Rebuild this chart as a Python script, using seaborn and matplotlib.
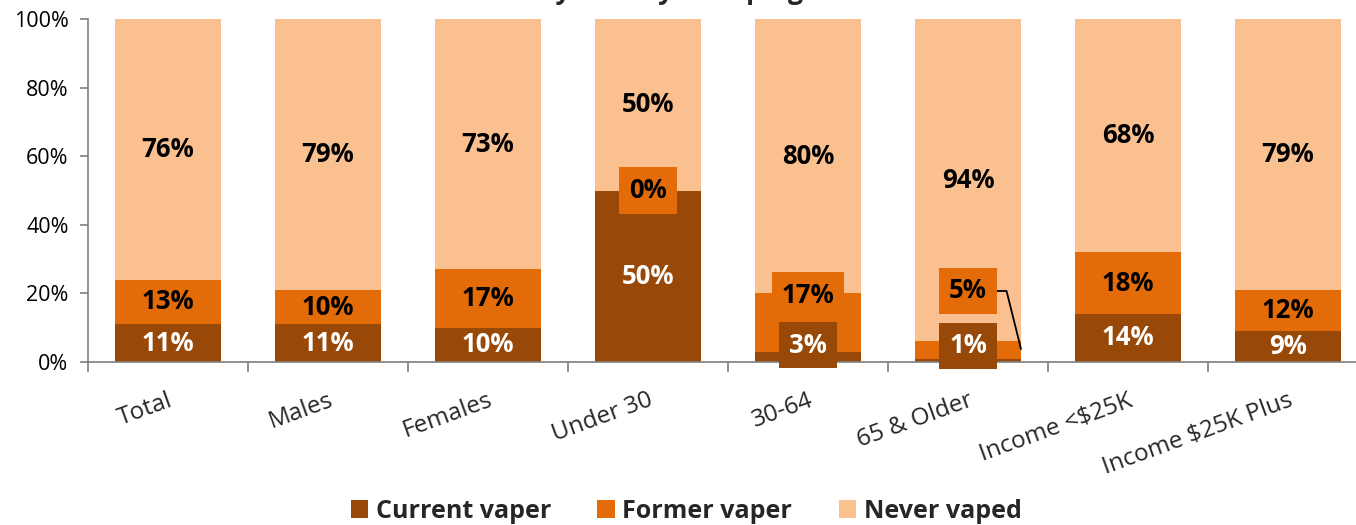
import matplotlib
matplotlib.use("Agg")
import matplotlib.pyplot as plt
import seaborn as sns
import numpy as np
import pandas as pd
from matplotlib.patches import Patch
from matplotlib.ticker import FixedLocator

categories = ["Total", "Males", "Females", "Under 30", "30-64", "65 & Older",
              "Income <$25K", "Income $25K Plus"]
current_vaper = [11, 11, 10, 50, 3, 1, 14, 9]
former_vaper = [13, 10, 17, 0, 17, 5, 18, 12]
never_vaped = [76, 79, 73, 50, 80, 94, 68, 79]
series_names = ["Current vaper", "Former vaper", "Never vaped"]
title_text = "Any History of Vaping"

colors = ["#984807", "#E36C09", "#FAC090"]
text_colors = ["white", "black", "black"]

sns.set_theme(style="white")
plt.rcParams["font.family"] = ["Open Sans", "DejaVu Sans"]

fig = plt.figure(figsize=(13.56, 5.25), dpi=100)
ax = fig.add_axes([88 / 1356, 1 - 362 / 525, 1280 / 1356, 343 / 525])

df = pd.DataFrame({
    "category": categories,
    "current": current_vaper,
    "former": former_vaper,
    "never": never_vaped,
})
df["cum1"] = df["current"]
df["cum2"] = df["current"] + df["former"]
df["cum3"] = df["cum2"] + df["never"]

bar_w = 0.6625
for col, c in [("cum3", colors[2]), ("cum2", colors[1]), ("cum1", colors[0])]:
    sns.barplot(data=df, x="category", y=col, color=c, saturation=1,
                width=bar_w, ax=ax, linewidth=0, errorbar=None)

ax.set_xlim(-0.5, 7.5)
ax.set_ylim(0, 100)
ax.set_xlabel("")
ax.set_ylabel("")

# labels
lab_fs = 18.5
boxed = {  # (category index, series index): y position override
    (3, 1): None,
    (4, 1): 19.5,
    (4, 0): 4.9,
    (5, 1): 20.7,
    (5, 0): 4.7,
}
series_vals = [current_vaper, former_vaper, never_vaped]
for i in range(len(categories)):
    base = 0
    for s in range(3):
        v = series_vals[s][i]
        yc = base + v / 2
        key = (i, s)
        if key in boxed:
            if boxed[key] is not None:
                yc = boxed[key]
            bbox = dict(boxstyle="square,pad=0.38", facecolor=colors[s],
                        edgecolor="none")
            if key == (5, 1):
                ax.annotate(f"{v}%", xy=(i + bar_w / 2, base + v / 2 + 0.3),
                            xytext=(i, yc), ha="center", va="center",
                            fontsize=lab_fs, fontweight="bold",
                            color=text_colors[s], bbox=bbox,
                            arrowprops=dict(arrowstyle="-", color="black",
                                            lw=1.3, shrinkA=0, shrinkB=0,
                                            connectionstyle="angle,angleA=0,angleB=104,rad=0"))
            else:
                ax.text(i, yc, f"{v}%", ha="center", va="center",
                        fontsize=lab_fs, fontweight="bold",
                        color=text_colors[s], bbox=bbox, zorder=5)
        else:
            ax.text(i, yc, f"{v}%", ha="center", va="center",
                    fontsize=lab_fs, fontweight="bold", color=text_colors[s])
        base += v

# axes styling
sns.despine(ax=ax, top=True, right=True)
for side in ["left", "bottom"]:
    ax.spines[side].set_color("#7f7f7f")
    ax.spines[side].set_linewidth(1.2)
ax.set_yticks([0, 20, 40, 60, 80, 100])
ax.set_yticklabels([f"{t}%" for t in [0, 20, 40, 60, 80, 100]], fontsize=15.5)
ax.tick_params(axis="y", which="major", left=True, length=6, width=1.2,
               color="#7f7f7f", pad=8, labelcolor="black")
ax.set_xticks(range(len(categories)))
ax.set_xticklabels(categories, fontsize=17.5, rotation=20, ha="right",
                   rotation_mode="anchor")
ax.tick_params(axis="x", which="major", bottom=False, length=0, pad=19)
ax.xaxis.set_minor_locator(FixedLocator(np.arange(-0.5, 8, 1)))
ax.tick_params(axis="x", which="minor", bottom=True, length=7, width=1.2,
               color="#7f7f7f")

# title (clipped at top as in the reference)
fig.text(0.488, 1.0 + 1 / 525, title_text, ha="center", va="baseline",
         fontsize=19, fontweight="bold")

handles = [Patch(facecolor=c, edgecolor="none", label=n)
           for c, n in zip(colors, series_names)]
leg = fig.legend(handles=handles, loc="center", bbox_to_anchor=(0.506, 1 - 511 / 525),
                 ncol=3, frameon=False, handlelength=0.7, handleheight=0.7,
                 handletextpad=0.3, columnspacing=1.85,
                 prop={"size": 18, "weight": "bold"})

fig.savefig("out.png", dpi=100)
